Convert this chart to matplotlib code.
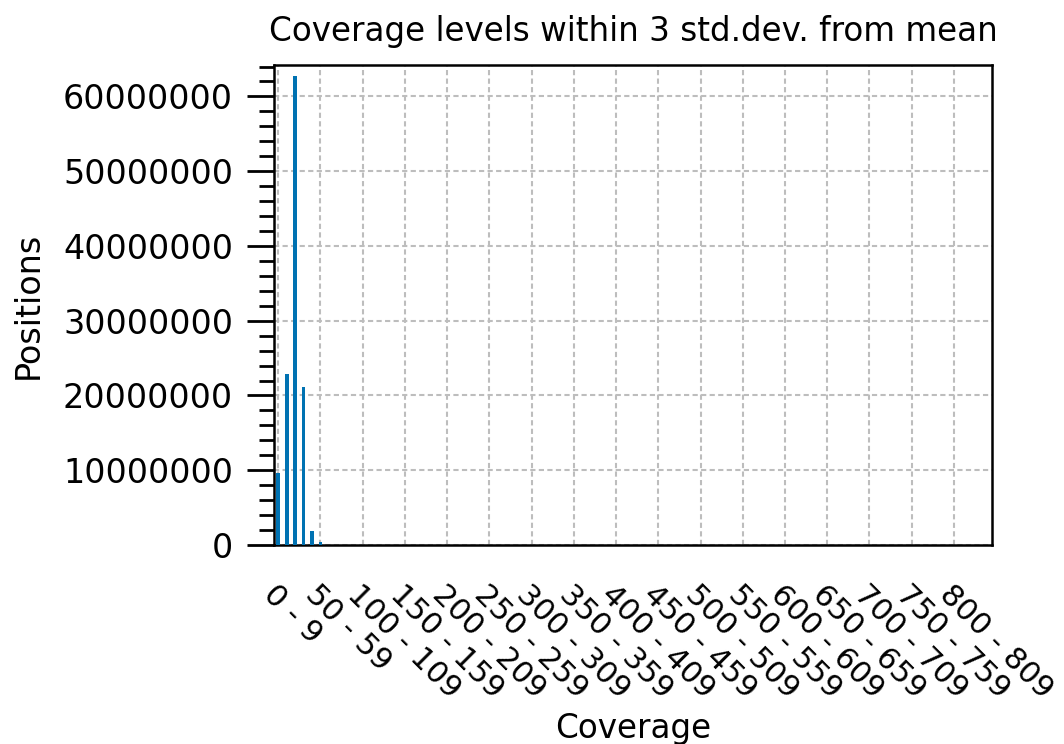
import numpy as np
import matplotlib.pyplot as plt
from matplotlib.ticker import MultipleLocator

# Coverage histogram: positions per 10x coverage bin
bin_starts = list(range(0, 850, 10))
bin_labels = ['%d - %d' % (s, s + 9) for s in bin_starts]
positions = [9670000, 22860000, 62700000, 21080000, 1910000, 400000,
             60000, 15000, 6000, 3000, 2000, 1500, 1200, 1000, 900, 800,
             700, 600, 550, 500, 450, 400, 380, 350, 330, 300, 280, 260,
             240, 220, 200, 190, 180, 170, 160, 150, 140, 130, 120, 110,
             100, 95, 90, 85, 80, 75, 70, 65, 60, 55, 50, 48, 46, 44, 42,
             40, 38, 36, 34, 32, 30, 28, 26, 24, 22, 20, 19, 18, 17, 16,
             15, 14, 13, 12, 11, 10, 9, 8, 7, 6, 5, 4, 3, 2, 1]

plt.rcParams['font.family'] = 'DejaVu Sans'

fig = plt.figure(figsize=(10.64, 7.44), dpi=100)
ax = fig.add_axes([0.2575, 0.2675, 0.6748, 0.6451])

x = np.arange(len(positions))
ax.bar(x, positions, width=0.45, color='#0072b2', zorder=3)

ax.set_xlim(-0.5, len(positions) - 0.5)
ax.set_ylim(0, 6.42e7)

ax.set_xticks(x[::5])
ax.set_xticklabels(bin_labels[::5], rotation=-45, ha='left', va='top',
                   rotation_mode='anchor', fontsize=22)
ax.tick_params(axis='x', length=0, pad=25)

ax.yaxis.set_major_locator(MultipleLocator(1e7))
ax.yaxis.set_minor_locator(MultipleLocator(2e6))
ax.ticklabel_format(axis='y', style='plain')
ax.tick_params(axis='y', which='major', length=19.5, width=2, pad=10, labelsize=24)
ax.tick_params(axis='y', which='minor', length=11, width=2)

for spine in ax.spines.values():
    spine.set_linewidth(1.8)

ax.grid(True, color='#bdbdbd', linestyle=(0, (2.5, 1.6)), linewidth=1.5, zorder=0)
ax.set_axisbelow(True)

ax.set_title('Coverage levels within 3 std.dev. from mean', fontsize=23.5, pad=17)
ax.set_xlabel('Coverage', fontsize=23.5, labelpad=6)
ax.set_ylabel('Positions', fontsize=24, labelpad=13)

fig.savefig('out.png', dpi=100)
